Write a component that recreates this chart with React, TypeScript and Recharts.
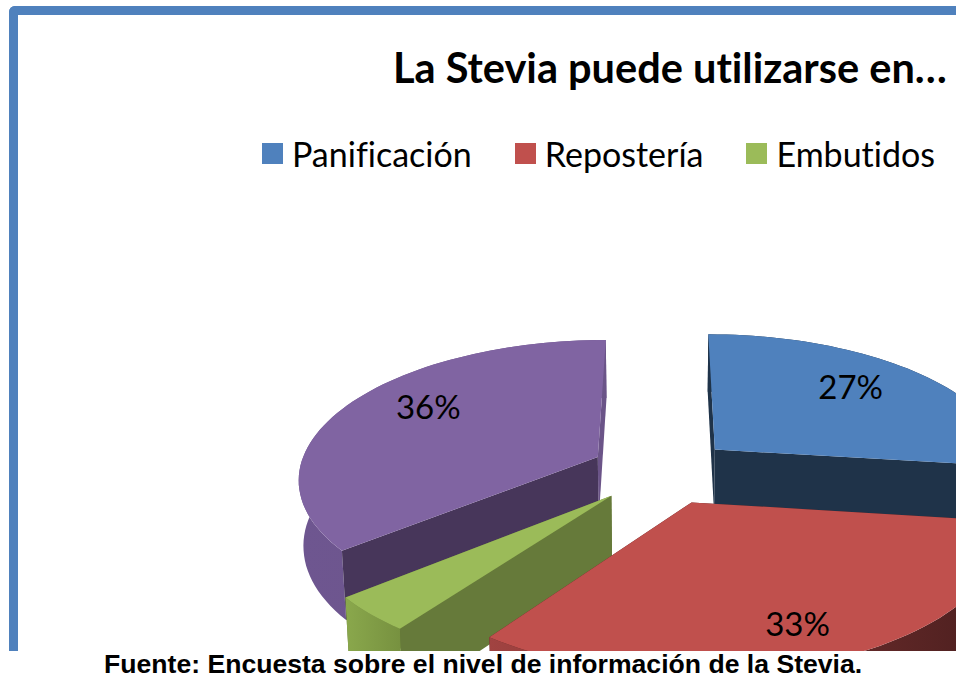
import React from 'react';
import { PieChart, Pie, Legend } from 'recharts';

const categories = ['Panificación', 'Repostería', 'Embutidos', 'Otros'];
const shares = [27, 33, 4, 36];
const legendNames = categories.slice(0, 3);
const labelled = ['Panificación', 'Repostería', 'Otros'];
const drawOrder = ['Otros', 'Panificación', 'Embutidos', 'Repostería'];

const topColors = ['#4F81BD', '#C0504D', '#9BBB59', '#8064A2'];
const firstFaceColors = ['#1F3349', '#4D1F1E', '#667A3A', '#47365A'];
const lastFaceColors = ['#1F3349', '#4D1F1E', '#667A3A', '#6B5488'];
const rimFrom = ['#1F3349', '#A14341', '#8AA84C', '#6E5690'];
const rimTo = ['#1F3349', '#4A1E1E', '#76903F', '#6B5488'];
const labelNudgeX = [-5, 8, 0, 7];
const labelNudgeY = [-6, 16, 0, -13];

const chartData = categories.map((name, i) => ({ name, value: shares[i], fill: topColors[i] }));

const W = 956;
const H = 651;
const CX = 662;
const CY = 471;
const RADIUS = 299;
const EXPLODE = 72;
const SQUASH = 0.46;
const PERSPECTIVE = 0.00048;
const DEPTH = 65;
const DEPTH_SHRINK = 0.987;
const RAD = Math.PI / 180;

// polar point to screen, with the slice pulled out along its mid angle
const project = (angle: number, r: number, mid: number, down: boolean, cx: number, cy: number) => {
  const wx = r * Math.cos(angle * RAD) + EXPLODE * Math.cos(mid * RAD);
  const wy = -r * Math.sin(angle * RAD) - EXPLODE * Math.sin(mid * RAD);
  const s = 1 / (1 - PERSPECTIVE * wy);
  const zs = down ? DEPTH_SHRINK : 1;
  return {
    x: cx + wx * s * zs,
    y: cy + SQUASH * wy * s * zs + (down ? DEPTH * s : 0),
  };
};

const toPath = (pts: { x: number; y: number }[]) =>
  pts.map((p, i) => `${i ? 'L' : 'M'}${p.x.toFixed(1)} ${p.y.toFixed(1)}`).join(' ') + ' Z';

const makeSlice = (pass: string) => (props: any) => {
  if (props.name !== pass) return null;
  const { cx, cy, outerRadius, startAngle, endAngle, midAngle, fill } = props;
  const i = categories.indexOf(props.name);
  const angles: number[] = [];
  const steps = Math.ceil(Math.abs(startAngle - endAngle) / 2);
  for (let k = 0; k <= steps; k++) angles.push(startAngle + ((endAngle - startAngle) * k) / steps);

  const p = (a: number, r: number, down: boolean) => project(a, r, midAngle, down, cx, cy);
  const rimTop = angles.map((a) => p(a, outerRadius, false));
  const rimBottom = angles.map((a) => p(a, outerRadius, true));
  const apexTop = p(midAngle, 0, false);
  const apexBottom = p(midAngle, 0, true);
  const gradId = `rim-${i}`;

  return (
    <g>
      <defs>
        <linearGradient id={gradId} x1="0" x2="1" y1="0" y2="0">
          <stop offset="0%" stopColor={rimFrom[i]} />
          <stop offset="100%" stopColor={rimTo[i]} />
        </linearGradient>
      </defs>
      <path d={toPath([apexTop, rimTop[steps], rimBottom[steps], apexBottom])} fill={lastFaceColors[i]} />
      <path d={toPath([...rimTop, ...rimBottom.slice().reverse()])} fill={`url(#${gradId})`} />
      <path d={toPath([apexTop, rimTop[0], rimBottom[0], apexBottom])} fill={firstFaceColors[i]} />
      <path d={toPath([apexTop, ...rimTop])} fill={fill} />
    </g>
  );
};

const makeLabel = (pass: string) => (props: any) => {
  if (props.name !== pass || !labelled.includes(pass)) return null;
  const { cx, cy, outerRadius, midAngle, percent } = props;
  const i = categories.indexOf(props.name);
  const pos = project(midAngle, outerRadius * 0.7, midAngle, false, cx, cy);
  return (
    <text
      x={pos.x + labelNudgeX[i]}
      y={pos.y + labelNudgeY[i]}
      textAnchor="middle"
      dominantBaseline="central"
      fontFamily="Lato"
      fontSize={33}
      fill="#000"
    >
      {`${Math.round(percent * 100)}%`}
    </text>
  );
};

const LegendRow = () => (
  <div
    style={{
      display: 'flex',
      alignItems: 'center',
      fontFamily: 'Lato',
      fontSize: 34,
      fontVariantLigatures: 'none',
      color: '#000',
      height: 40,
    }}
  >
    {legendNames.map((name, i) => (
      <div key={name} style={{ display: 'flex', alignItems: 'center', marginRight: 43 }}>
        <span style={{ width: 21, height: 21, background: topColors[i], marginRight: 9 }} />
        <span>{name}</span>
      </div>
    ))}
  </div>
);

export default function App() {
  return (
    <div style={{ position: 'absolute', left: 0, top: 0, width: W, height: 677, overflow: 'hidden', background: '#fff' }}>
      <div
        style={{
          position: 'absolute',
          left: 9,
          top: 6,
          width: W + 50,
          height: H + 50,
          boxSizing: 'border-box',
          borderLeft: '9px solid #4F81BD',
          borderTop: '9px solid #4F81BD',
          borderTopLeftRadius: 6,
        }}
      />
      <div style={{ position: 'absolute', left: 0, top: H, width: W, height: 26, background: '#fff', zIndex: 1 }} />
      <div style={{ position: 'absolute', left: 0, top: 0 }}>
        <PieChart width={W} height={H} margin={{ top: 0, right: 0, bottom: 0, left: 0 }}>
          <text
            x={393}
            y={83}
            fontFamily="Lato"
            fontWeight={700}
            fontSize={41.5}
            fill="#000"
            style={{ fontVariantLigatures: 'none' }}
          >
            La Stevia puede utilizarse en…
          </text>
          <Legend content={<LegendRow />} wrapperStyle={{ position: 'absolute', left: 262, top: 133, width: 760 }} />
          {drawOrder.map((name) => (
            <Pie
              key={name}
              data={chartData}
              dataKey="value"
              nameKey="name"
              cx={CX}
              cy={CY}
              outerRadius={RADIUS}
              startAngle={90}
              endAngle={-270}
              stroke="none"
              isAnimationActive={false}
              legendType="none"
              shape={makeSlice(name)}
              label={makeLabel(name)}
              labelLine={false}
            />
          ))}
        </PieChart>
      </div>
      <div
        style={{
          position: 'absolute',
          left: 104,
          top: 651,
          zIndex: 2,
          whiteSpace: 'nowrap',
          fontFamily: '"Liberation Sans"',
          fontWeight: 700,
          fontSize: 26.6,
          lineHeight: '26px',
          color: '#000',
        }}
      >
        Fuente: Encuesta sobre el nivel de información de la Stevia.
      </div>
    </div>
  );
}
